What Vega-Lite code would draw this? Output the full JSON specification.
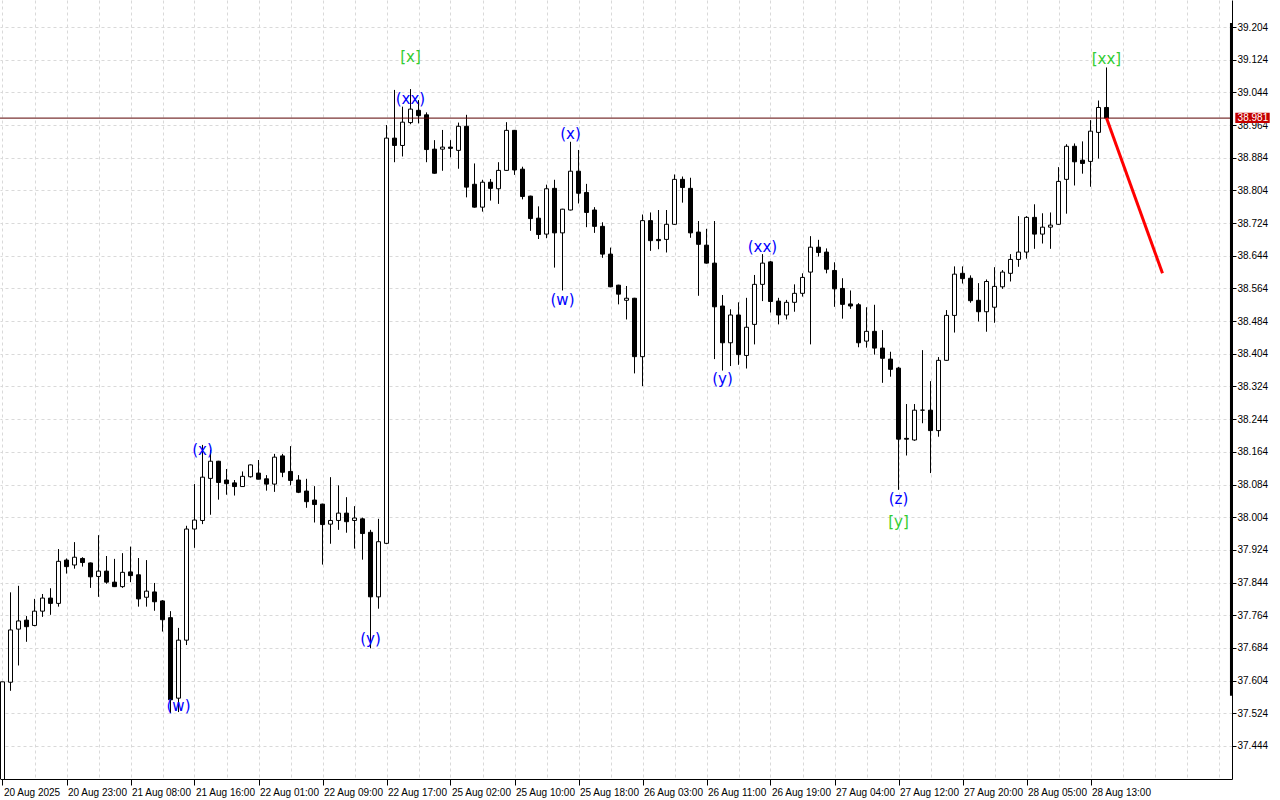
{
  "$schema": "https://vega.github.io/schema/vega-lite/v6.json",
  "width": 1232,
  "height": 779,
  "autosize": {"type": "none"},
  "padding": {"left": 0, "top": 0, "right": 48, "bottom": 21},
  "background": "white",
  "config": {"view": {"stroke": null}, "font": "Liberation Sans", "axis": {"labelOverlap": false}, "axisY": {"labelOverlap": false}},
  "datasets": {
    "candles": [
      {"i":0,"o":37.31,"h":37.601,"l":37.30,"c":37.601},
      {"i":1,"o":37.600,"h":37.820,"l":37.579,"c":37.728},
      {"i":2,"o":37.730,"h":37.836,"l":37.641,"c":37.750},
      {"i":3,"o":37.752,"h":37.762,"l":37.699,"c":37.736},
      {"i":4,"o":37.739,"h":37.804,"l":37.737,"c":37.774},
      {"i":5,"o":37.774,"h":37.816,"l":37.760,"c":37.806},
      {"i":6,"o":37.806,"h":37.830,"l":37.765,"c":37.793},
      {"i":7,"o":37.793,"h":37.926,"l":37.785,"c":37.896},
      {"i":8,"o":37.899,"h":37.903,"l":37.866,"c":37.883},
      {"i":9,"o":37.887,"h":37.943,"l":37.878,"c":37.906},
      {"i":10,"o":37.903,"h":37.906,"l":37.883,"c":37.893},
      {"i":11,"o":37.892,"h":37.893,"l":37.831,"c":37.858},
      {"i":12,"o":37.859,"h":37.960,"l":37.809,"c":37.872},
      {"i":13,"o":37.872,"h":37.909,"l":37.841,"c":37.845},
      {"i":14,"o":37.845,"h":37.902,"l":37.833,"c":37.834},
      {"i":15,"o":37.834,"h":37.916,"l":37.831,"c":37.869},
      {"i":16,"o":37.870,"h":37.932,"l":37.845,"c":37.861},
      {"i":17,"o":37.863,"h":37.904,"l":37.785,"c":37.804},
      {"i":18,"o":37.808,"h":37.899,"l":37.785,"c":37.823},
      {"i":19,"o":37.821,"h":37.843,"l":37.775,"c":37.797},
      {"i":20,"o":37.799,"h":37.801,"l":37.724,"c":37.753},
      {"i":21,"o":37.758,"h":37.774,"l":37.525,"c":37.557},
      {"i":22,"o":37.561,"h":37.733,"l":37.527,"c":37.703},
      {"i":23,"o":37.703,"h":37.983,"l":37.691,"c":37.975},
      {"i":24,"o":37.975,"h":38.085,"l":37.929,"c":37.997},
      {"i":25,"o":37.996,"h":38.181,"l":37.987,"c":38.102},
      {"i":26,"o":38.099,"h":38.169,"l":38.010,"c":38.141},
      {"i":27,"o":38.141,"h":38.142,"l":38.047,"c":38.089},
      {"i":28,"o":38.095,"h":38.122,"l":38.059,"c":38.086},
      {"i":29,"o":38.088,"h":38.095,"l":38.057,"c":38.079},
      {"i":30,"o":38.079,"h":38.116,"l":38.078,"c":38.104},
      {"i":31,"o":38.103,"h":38.133,"l":38.101,"c":38.132},
      {"i":32,"o":38.112,"h":38.144,"l":38.097,"c":38.097},
      {"i":33,"o":38.098,"h":38.107,"l":38.069,"c":38.085},
      {"i":34,"o":38.085,"h":38.159,"l":38.066,"c":38.151},
      {"i":35,"o":38.154,"h":38.159,"l":38.102,"c":38.114},
      {"i":36,"o":38.116,"h":38.178,"l":38.082,"c":38.094},
      {"i":37,"o":38.095,"h":38.107,"l":38.063,"c":38.065},
      {"i":38,"o":38.068,"h":38.098,"l":38.027,"c":38.042},
      {"i":39,"o":38.046,"h":38.080,"l":37.991,"c":38.035},
      {"i":40,"o":38.036,"h":38.037,"l":37.888,"c":37.986},
      {"i":41,"o":37.987,"h":38.102,"l":37.939,"c":37.996},
      {"i":42,"o":37.996,"h":38.082,"l":37.973,"c":38.014},
      {"i":43,"o":38.014,"h":38.053,"l":37.966,"c":37.993},
      {"i":44,"o":37.996,"h":38.031,"l":37.927,"c":38.002},
      {"i":45,"o":38.000,"h":38.003,"l":37.900,"c":37.964},
      {"i":46,"o":37.967,"h":37.973,"l":37.683,"c":37.809},
      {"i":47,"o":37.809,"h":38.000,"l":37.780,"c":37.944},
      {"i":48,"o":37.940,"h":38.964,"l":37.938,"c":38.932},
      {"i":49,"o":38.932,"h":39.050,"l":38.873,"c":38.914},
      {"i":50,"o":38.914,"h":39.009,"l":38.887,"c":38.971},
      {"i":51,"o":38.970,"h":39.052,"l":38.966,"c":39.003},
      {"i":52,"o":39.000,"h":39.025,"l":38.968,"c":38.987},
      {"i":53,"o":38.989,"h":38.995,"l":38.873,"c":38.904},
      {"i":54,"o":38.905,"h":38.927,"l":38.845,"c":38.846},
      {"i":55,"o":38.905,"h":38.952,"l":38.852,"c":38.910},
      {"i":56,"o":38.910,"h":38.927,"l":38.885,"c":38.907},
      {"i":57,"o":38.902,"h":38.970,"l":38.857,"c":38.961},
      {"i":58,"o":38.961,"h":38.989,"l":38.787,"c":38.812},
      {"i":59,"o":38.819,"h":38.870,"l":38.762,"c":38.763},
      {"i":60,"o":38.763,"h":38.830,"l":38.752,"c":38.824},
      {"i":61,"o":38.824,"h":38.832,"l":38.779,"c":38.809},
      {"i":62,"o":38.808,"h":38.873,"l":38.771,"c":38.853},
      {"i":63,"o":38.853,"h":38.971,"l":38.852,"c":38.951},
      {"i":64,"o":38.951,"h":38.952,"l":38.842,"c":38.854},
      {"i":65,"o":38.856,"h":38.862,"l":38.782,"c":38.789},
      {"i":66,"o":38.790,"h":38.791,"l":38.705,"c":38.735},
      {"i":67,"o":38.736,"h":38.765,"l":38.685,"c":38.696},
      {"i":68,"o":38.697,"h":38.818,"l":38.687,"c":38.808},
      {"i":69,"o":38.809,"h":38.830,"l":38.615,"c":38.700},
      {"i":70,"o":38.700,"h":38.759,"l":38.559,"c":38.758},
      {"i":71,"o":38.756,"h":38.923,"l":38.755,"c":38.851},
      {"i":72,"o":38.851,"h":38.903,"l":38.772,"c":38.797},
      {"i":73,"o":38.799,"h":38.820,"l":38.714,"c":38.750},
      {"i":74,"o":38.756,"h":38.763,"l":38.700,"c":38.716},
      {"i":75,"o":38.716,"h":38.726,"l":38.639,"c":38.648},
      {"i":76,"o":38.648,"h":38.664,"l":38.567,"c":38.568},
      {"i":77,"o":38.572,"h":38.573,"l":38.525,"c":38.550},
      {"i":78,"o":38.535,"h":38.570,"l":38.488,"c":38.540},
      {"i":79,"o":38.540,"h":38.541,"l":38.356,"c":38.397},
      {"i":80,"o":38.397,"h":38.745,"l":38.325,"c":38.730},
      {"i":81,"o":38.730,"h":38.750,"l":38.656,"c":38.681},
      {"i":82,"o":38.684,"h":38.756,"l":38.660,"c":38.681},
      {"i":83,"o":38.684,"h":38.756,"l":38.652,"c":38.721},
      {"i":84,"o":38.721,"h":38.843,"l":38.720,"c":38.831},
      {"i":85,"o":38.831,"h":38.838,"l":38.774,"c":38.811},
      {"i":86,"o":38.809,"h":38.835,"l":38.688,"c":38.700},
      {"i":87,"o":38.702,"h":38.729,"l":38.546,"c":38.672},
      {"i":88,"o":38.670,"h":38.710,"l":38.625,"c":38.626},
      {"i":89,"o":38.626,"h":38.729,"l":38.391,"c":38.519},
      {"i":90,"o":38.521,"h":38.548,"l":38.363,"c":38.431},
      {"i":91,"o":38.431,"h":38.513,"l":38.374,"c":38.499},
      {"i":92,"o":38.499,"h":38.530,"l":38.377,"c":38.402},
      {"i":93,"o":38.400,"h":38.541,"l":38.368,"c":38.469},
      {"i":94,"o":38.476,"h":38.597,"l":38.427,"c":38.574},
      {"i":95,"o":38.574,"h":38.648,"l":38.533,"c":38.626},
      {"i":96,"o":38.629,"h":38.631,"l":38.505,"c":38.532},
      {"i":97,"o":38.533,"h":38.541,"l":38.476,"c":38.499},
      {"i":98,"o":38.499,"h":38.536,"l":38.488,"c":38.530},
      {"i":99,"o":38.530,"h":38.574,"l":38.507,"c":38.552},
      {"i":100,"o":38.552,"h":38.601,"l":38.544,"c":38.591},
      {"i":101,"o":38.604,"h":38.692,"l":38.427,"c":38.665},
      {"i":102,"o":38.665,"h":38.683,"l":38.642,"c":38.652},
      {"i":103,"o":38.653,"h":38.662,"l":38.601,"c":38.611},
      {"i":104,"o":38.608,"h":38.628,"l":38.519,"c":38.563},
      {"i":105,"o":38.564,"h":38.589,"l":38.490,"c":38.525},
      {"i":106,"o":38.526,"h":38.559,"l":38.514,"c":38.521},
      {"i":107,"o":38.524,"h":38.528,"l":38.420,"c":38.431},
      {"i":108,"o":38.435,"h":38.518,"l":38.419,"c":38.459},
      {"i":109,"o":38.459,"h":38.524,"l":38.402,"c":38.418},
      {"i":110,"o":38.418,"h":38.462,"l":38.333,"c":38.393},
      {"i":111,"o":38.391,"h":38.409,"l":38.348,"c":38.366},
      {"i":112,"o":38.369,"h":38.372,"l":38.071,"c":38.195},
      {"i":113,"o":38.197,"h":38.281,"l":38.155,"c":38.195},
      {"i":114,"o":38.193,"h":38.281,"l":38.191,"c":38.266},
      {"i":115,"o":38.266,"h":38.413,"l":38.234,"c":38.266},
      {"i":116,"o":38.266,"h":38.337,"l":38.112,"c":38.216},
      {"i":117,"o":38.216,"h":38.396,"l":38.201,"c":38.388},
      {"i":118,"o":38.388,"h":38.511,"l":38.387,"c":38.498},
      {"i":119,"o":38.498,"h":38.618,"l":38.456,"c":38.599},
      {"i":120,"o":38.601,"h":38.618,"l":38.576,"c":38.588},
      {"i":121,"o":38.589,"h":38.596,"l":38.529,"c":38.534},
      {"i":122,"o":38.535,"h":38.577,"l":38.483,"c":38.507},
      {"i":123,"o":38.507,"h":38.586,"l":38.458,"c":38.581},
      {"i":124,"o":38.518,"h":38.616,"l":38.480,"c":38.569},
      {"i":125,"o":38.568,"h":38.609,"l":38.563,"c":38.604},
      {"i":126,"o":38.601,"h":38.648,"l":38.581,"c":38.635},
      {"i":127,"o":38.635,"h":38.741,"l":38.617,"c":38.653},
      {"i":128,"o":38.653,"h":38.741,"l":38.637,"c":38.738},
      {"i":129,"o":38.738,"h":38.770,"l":38.661,"c":38.697},
      {"i":130,"o":38.697,"h":38.748,"l":38.674,"c":38.714},
      {"i":131,"o":38.714,"h":38.750,"l":38.661,"c":38.719},
      {"i":132,"o":38.721,"h":38.861,"l":38.720,"c":38.826},
      {"i":133,"o":38.831,"h":38.917,"l":38.747,"c":38.912},
      {"i":134,"o":38.912,"h":38.919,"l":38.816,"c":38.874},
      {"i":135,"o":38.878,"h":38.924,"l":38.845,"c":38.870},
      {"i":136,"o":38.875,"h":38.976,"l":38.813,"c":38.949},
      {"i":137,"o":38.946,"h":39.024,"l":38.882,"c":39.007},
      {"i":138,"o":39.007,"h":39.105,"l":38.981,"c":38.981}
    ],
    "proj": [{"i":138,"p":38.981},{"i":145,"p":38.601}],
    "labels": [
      {"i":22,"p":37.542,"t":"(w)","col":"#0000ff"},
      {"i":25,"p":38.169,"t":"(x)","col":"#0000ff"},
      {"i":46,"p":37.705,"t":"(y)","col":"#0000ff"},
      {"i":51,"p":39.027,"t":"(xx)","col":"#0000ff"},
      {"i":51,"p":39.131,"t":"[x]","col":"#32cd32"},
      {"i":70,"p":38.536,"t":"(w)","col":"#0000ff"},
      {"i":71,"p":38.941,"t":"(x)","col":"#0000ff"},
      {"i":90,"p":38.342,"t":"(y)","col":"#0000ff"},
      {"i":95,"p":38.666,"t":"(xx)","col":"#0000ff"},
      {"i":112,"p":38.049,"t":"(z)","col":"#0000ff"},
      {"i":112,"p":37.992,"t":"[y]","col":"#32cd32"},
      {"i":138,"p":39.125,"t":"[xx]","col":"#32cd32"}
    ],
    "price": [{"p":38.981,"t":"38.981","i":156.3,"i1":154.1,"i2":158.4,"p1":38.994,"p2":38.969}],
    "edge": [{"i":153.62,"p1":39.214,"p2":37.567}]
  },
  "resolve": {"axis": {"x": "independent", "y": "independent"}},
  "layer": [
    {
      "data": {"name": "candles"},
      "mark": {"type": "rule", "color": "black", "strokeWidth": 1, "clip": true},
      "encoding": {
        "x": {"field": "i", "type": "quantitative", "title": null,
          "scale": {"domain": [-0.3125, 153.6875], "nice": false, "zero": false, "padding": 0},
          "axis": {
            "values": [0,4,8,12,16,20,24,28,32,36,40,44,48,52,56,60,64,68,72,76,80,84,88,92,96,100,104,108,112,116,120,124,128,132,136,140,144,148,152],
            "grid": true, "gridColor": "#d9d9d9", "gridDash": [3,3], "gridWidth": 1,
            "domainColor": "black", "domainWidth": 1,
            "tickColor": "black", "tickSize": 6,
            "tickOpacity": {"condition": {"test": "datum.value % 8 == 0 && datum.value <= 136", "value": 1}, "value": 0},
            "labelExpr": "datum.value % 8 == 0 && datum.value <= 136 ? ['20 Aug 2025','20 Aug 23:00','21 Aug 08:00','21 Aug 16:00','22 Aug 01:00','22 Aug 09:00','22 Aug 17:00','25 Aug 02:00','25 Aug 10:00','25 Aug 18:00','26 Aug 03:00','26 Aug 11:00','26 Aug 19:00','27 Aug 04:00','27 Aug 12:00','27 Aug 20:00','28 Aug 05:00','28 Aug 13:00'][datum.value / 8] : ''",
            "labelAlign": "left", "labelBaseline": "top", "labelPadding": 2, "labelOffset": 1,
            "labelFont": "Liberation Sans", "labelFontSize": 10, "labelColor": "black",
            "labelOverlap": false, "labelBound": false, "labelFlush": false
          }
        },
        "y": {"field": "l", "type": "quantitative", "title": null,
          "scale": {"domain": [37.3631, 39.2701], "nice": false, "zero": false, "padding": 0},
          "axis": {
            "orient": "right",
            "values": [37.444,37.524,37.604,37.684,37.764,37.844,37.924,38.004,38.084,38.164,38.244,38.324,38.404,38.484,38.564,38.644,38.724,38.804,38.884,38.964,39.044,39.124,39.204],
            "format": ".3f",
            "grid": true, "gridColor": "#d9d9d9", "gridDash": [3,3], "gridWidth": 1,
            "domainColor": "black", "domainWidth": 1,
            "tickColor": "black", "tickSize": 4,
            "labelFont": "Liberation Sans", "labelFontSize": 10, "labelColor": "black", "labelPadding": 1,
            "labelOverlap": false, "labelBound": false, "labelFlush": false, "labelSeparation": 0
          }
        },
        "y2": {"field": "h"}
      }
    },
    {
      "data": {"name": "candles"},
      "mark": {"type": "bar", "size": 4, "stroke": "black", "strokeWidth": 1, "orient": "vertical", "clip": true},
      "encoding": {
        "x": {"field": "i", "type": "quantitative", "axis": null},
        "y": {"field": "o", "type": "quantitative", "axis": null},
        "y2": {"field": "c"},
        "fill": {"condition": {"test": "datum.c < datum.o", "value": "black"}, "value": "white"}
      }
    },
    {
      "data": {"name": "price"},
      "mark": {"type": "rule", "color": "#5a0000", "strokeWidth": 1},
      "encoding": {
        "y": {"field": "p", "type": "quantitative", "axis": null}
      }
    },
    {
      "data": {"name": "proj"},
      "mark": {"type": "line", "color": "#ff0000", "strokeWidth": 3},
      "encoding": {
        "x": {"field": "i", "type": "quantitative", "axis": null},
        "y": {"field": "p", "type": "quantitative", "axis": null}
      }
    },
    {
      "data": {"name": "labels"},
      "mark": {"type": "text", "font": "DejaVu Sans", "fontSize": 15, "align": "center", "baseline": "middle"},
      "encoding": {
        "x": {"field": "i", "type": "quantitative", "axis": null},
        "y": {"field": "p", "type": "quantitative", "axis": null},
        "text": {"field": "t"},
        "color": {"field": "col", "type": "nominal", "scale": null}
      }
    },
    {
      "data": {"name": "price"},
      "mark": {"type": "rect", "fill": "#c40000"},
      "encoding": {
        "x": {"field": "i1", "type": "quantitative", "axis": null},
        "x2": {"field": "i2"},
        "y": {"field": "p1", "type": "quantitative", "axis": null},
        "y2": {"field": "p2"}
      }
    },
    {
      "data": {"name": "price"},
      "mark": {"type": "text", "font": "Liberation Sans", "fontSize": 10, "color": "white", "align": "center", "baseline": "middle"},
      "encoding": {
        "x": {"field": "i", "type": "quantitative", "axis": null},
        "y": {"field": "p", "type": "quantitative", "axis": null},
        "text": {"field": "t"}
      }
    },
    {
      "data": {"name": "edge"},
      "mark": {"type": "rule", "color": "black", "strokeWidth": 3},
      "encoding": {
        "x": {"field": "i", "type": "quantitative", "axis": null},
        "y": {"field": "p1", "type": "quantitative", "axis": null},
        "y2": {"field": "p2"}
      }
    }
  ]
}
